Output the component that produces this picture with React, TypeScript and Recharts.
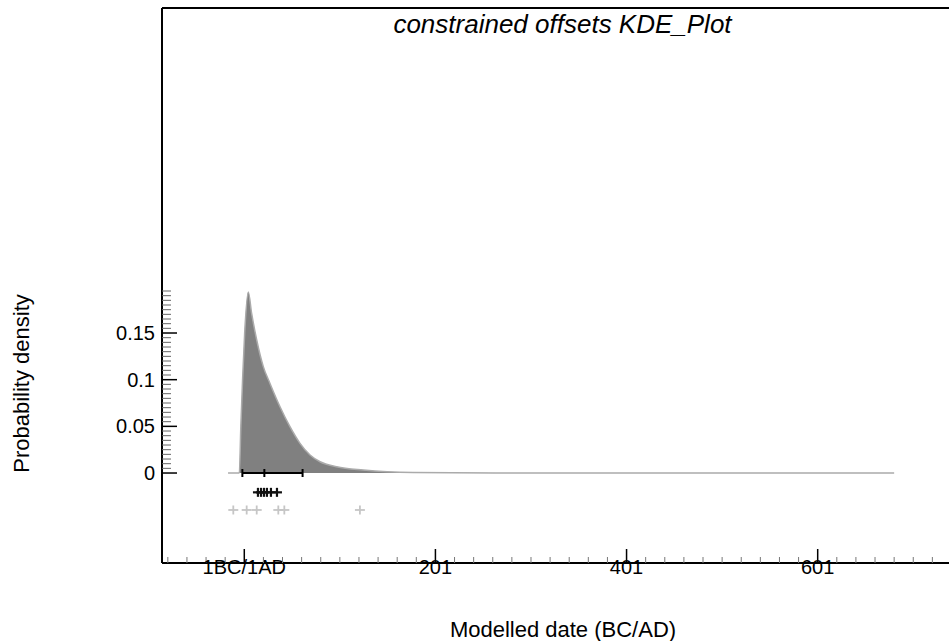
import { ComposedChart, Area, Scatter, XAxis, YAxis, ReferenceLine, Label } from "recharts";

// KDE curve (year, probability density)
const kdeYears = [-17, -5.2, -3.6, -1.8, 0.4, 4.2, 7.7, 13, 19.9, 26.9, 37.4, 47.8, 58.3, 68.8, 79.3, 96.7, 124.5, 176.5, 267, 680];
const kdeDensity = [0, 0, 0.05, 0.1, 0.15, 0.194, 0.171, 0.1425, 0.114, 0.096, 0.071, 0.0496, 0.0318, 0.0193, 0.0121, 0.0068, 0.0032, 0.0005, 0.0001, 0];

// range bar under the curve (from, median, to)
const rangeYears = [-2, 21, 61];
// black crosses (model) and grey crosses (data)
const blackCrossYears = [14.3, 17.5, 20.6, 23.7, 27.9, 34.2];
const greyCrossYears = [-11.5, 2.5, 13, 35.6, 41.9, 121];
const blackRowY = -0.0207;
const greyRowY = -0.0396;

const xMajorTicks = [0, 200, 400, 600];
const xTickLabels = ["1BC/1AD", "201", "401", "601"];
const yMajorTicks = [0, 0.05, 0.1, 0.15];
const yTickLabels = ["0", "0.05", "0.1", "0.15"];

const X_DOMAIN: [number, number] = [-86.1, 737.4];
const Y_DOMAIN: [number, number] = [-0.0964, 0.4982];

const FONT = "'Liberation Sans', Arial, sans-serif";

const xTicks: number[] = [];
for (let v = -80; v <= 720; v += 20) xTicks.push(v);
const yTicks: number[] = [];
for (let i = 0; i <= 39; i++) yTicks.push(Math.round(i * 5) / 1000);

const kdeData = kdeYears.map((x, i) => ({ x, y: kdeDensity[i] }));
const rangeData = rangeYears.map((x) => ({ x, y: 0 }));
const blackData = blackCrossYears.map((x) => ({ x, y: blackRowY }));
const greyData = greyCrossYears.map((x) => ({ x, y: greyRowY }));

function XTick(props: any) {
  const { x, y, payload } = props;
  const idx = xMajorTicks.indexOf(payload.value);
  const major = idx >= 0;
  return (
    <g>
      <line x1={x} x2={x} y1={y} y2={y - (major ? 14 : 6)} stroke={major ? "#000" : "#777"} strokeWidth={major ? 1.5 : 1} />
      {major && (
        <text x={x} y={y + 11} textAnchor="middle" fontSize={20} fontFamily={FONT} fill="#000">
          {xTickLabels[idx]}
        </text>
      )}
    </g>
  );
}

function YTick(props: any) {
  const { x, y, payload } = props;
  const idx = yMajorTicks.findIndex((t) => Math.abs(t - payload.value) < 1e-9);
  const major = idx >= 0;
  return (
    <g>
      <line x1={x} x2={x + (major ? 15 : 9)} y1={y} y2={y} stroke={major ? "#000" : "#666"} strokeWidth={major ? 1.5 : 1} />
      {major && (
        <text x={x - 7} y={y} dy="0.35em" textAnchor="end" fontSize={20} fontFamily={FONT} fill="#000">
          {yTickLabels[idx]}
        </text>
      )}
    </g>
  );
}

const cross = (color: string, w: number, h: number, sw: number) => (p: any) => (
  <g>
    <line x1={p.cx - w} x2={p.cx + w} y1={p.cy} y2={p.cy} stroke={color} strokeWidth={sw} />
    <line x1={p.cx} x2={p.cx} y1={p.cy - h} y2={p.cy + h} stroke={color} strokeWidth={sw} />
  </g>
);

const rangeTick = (p: any) => (
  <line x1={p.cx} x2={p.cx} y1={p.cy - 4} y2={p.cy + 4} stroke="#000" strokeWidth={2} />
);

export default function App() {
  return (
    <div style={{ position: "absolute", left: 0, top: 0, fontFamily: FONT }}>
      <ComposedChart width={949} height={641} data={kdeData} margin={{ top: 8, right: 0, bottom: 0, left: 0 }}>
        <XAxis
          dataKey="x"
          type="number"
          domain={X_DOMAIN}
          allowDataOverflow
          ticks={xTicks}
          interval={0}
          height={78}
          tickSize={0}
          tickMargin={0}
          tickLine={false}
          tick={<XTick />}
          axisLine={{ stroke: "#000", strokeWidth: 2 }}
        >
          <Label
            content={() => (
              <text x={563} y={637} textAnchor="middle" fontSize={22} fontFamily={FONT} fill="#000">
                Modelled date (BC/AD)
              </text>
            )}
          />
        </XAxis>
        <YAxis
          dataKey="y"
          type="number"
          domain={Y_DOMAIN}
          allowDataOverflow
          ticks={yTicks}
          interval={0}
          width={162}
          tickSize={0}
          tickMargin={0}
          tickLine={false}
          tick={<YTick />}
          axisLine={{ stroke: "#000", strokeWidth: 2 }}
        >
          <Label
            content={() => (
              <text x={29} y={383.5} transform="rotate(-90 29 383.5)" textAnchor="middle" fontSize={22} fontFamily={FONT} fill="#000">
                Probability density
              </text>
            )}
          />
        </YAxis>
        <ReferenceLine y={Y_DOMAIN[1]} stroke="#000" strokeWidth={2} ifOverflow="visible">
          <Label
            content={() => (
              <text x={562.5} y={33} textAnchor="middle" fontSize={26} fontStyle="italic" fontFamily={FONT} fill="#000">
                constrained offsets KDE_Plot
              </text>
            )}
          />
        </ReferenceLine>
        <Area
          type="monotone"
          dataKey="y"
          baseValue={0}
          stroke="#ababab"
          strokeWidth={1.5}
          fill="#808080"
          fillOpacity={1}
          isAnimationActive={false}
          dot={false}
          activeDot={false}
        />
        <Scatter data={rangeData} line={{ stroke: "#000", strokeWidth: 2 }} shape={rangeTick} isAnimationActive={false} />
        <Scatter data={blackData} shape={cross("#111", 5, 4.5, 2.2)} isAnimationActive={false} />
        <Scatter data={greyData} shape={cross("#c6c6c6", 5, 4.5, 1.8)} isAnimationActive={false} />
      </ComposedChart>
    </div>
  );
}
